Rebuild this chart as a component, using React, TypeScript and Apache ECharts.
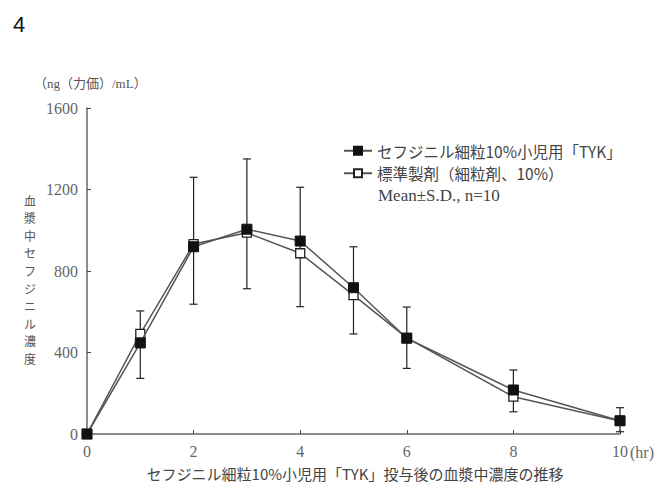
import React, { useEffect, useRef } from "react";
import * as echarts from "echarts";

const hours = [0, 1, 2, 3, 4, 5, 6, 8, 10];
const tykValues = [0, 447, 919, 1005, 947, 718, 470, 216, 65];
const refValues = [0, 491, 932, 988, 887, 682, 472, 183, 64];
const sdLow = [0, 273, 637, 713, 625, 491, 322, 109, 11];
const sdHigh = [0, 604, 1260, 1350, 1211, 919, 623, 314, 129];
const seriesNames = ["セフジニル細粒10%小児用「TYK」", "標準製剤（細粒剤、10%）"];
const yTicks = [0, 400, 800, 1200, 1600];
const xTicks = [0, 2, 4, 6, 8, 10];
const yTitle = "血漿中セフジニル濃度";

const SERIF = "'Liberation Serif', 'DejaVu Serif', 'Noto Sans CJK JP', serif";
const CJK = "'Noto Sans CJK JP', 'Liberation Serif', serif";

export default function App() {
  const ref = useRef<HTMLDivElement>(null);
  useEffect(() => {
    if (!ref.current) return;
    const chart = echarts.init(ref.current, undefined, { renderer: "svg" });
    const errData = hours
      .map((h, i) => [h, sdLow[i], sdHigh[i]])
      .filter((d) => d[2] > d[1]);
    const vChars = yTitle.split("").map((c, i) => ({
      type: "text",
      x: 30,
      y: 194 + i * 17.6,
      style: { text: c, fontSize: 12, fontFamily: CJK, fill: "#5a524c", align: "center", verticalAlign: "top" },
    }));
    chart.setOption({
      animation: false,
      backgroundColor: "#fff",
      grid: { left: 87, top: 108, width: 533, height: 326 },
      xAxis: {
        type: "value",
        min: xTicks[0],
        max: xTicks[xTicks.length - 1],
        interval: 2,
        axisLine: { lineStyle: { color: "#666", width: 1.5 } },
        axisTick: { inside: true, length: 4, lineStyle: { color: "#444" } },
        axisLabel: { color: "#666", fontFamily: SERIF, fontSize: 16, margin: 9, formatter: (v: number) => String(v) },
        splitLine: { show: false },
      },
      yAxis: {
        type: "value",
        min: yTicks[0],
        max: yTicks[yTicks.length - 1],
        interval: 400,
        axisLine: { show: true, lineStyle: { color: "#666", width: 1.5 } },
        axisTick: { show: true, inside: true, length: 4, lineStyle: { color: "#444" } },
        axisLabel: { color: "#666", fontFamily: SERIF, fontSize: 16, margin: 9, formatter: (v: number) => String(v) },
        splitLine: { show: false },
      },
      legend: {
        orient: "vertical",
        left: 338,
        top: 138,
        itemWidth: 28,
        itemHeight: 10,
        itemGap: 7,
        data: seriesNames,
        textStyle: { color: "#444", fontFamily: CJK, fontSize: 15.5 },
      },
      series: [
        {
          type: "custom",
          name: "sd",
          z: 1,
          data: errData,
          encode: { x: 0, y: [1, 2] },
          renderItem: (params: any, api: any) => {
            const x = api.value(0);
            const lo = api.coord([x, api.value(1)]);
            const hi = api.coord([x, api.value(2)]);
            const cw = 4;
            const style = { stroke: "#222", lineWidth: 1.2 };
            return {
              type: "group",
              children: [
                { type: "line", shape: { x1: lo[0], y1: lo[1], x2: hi[0], y2: hi[1] }, style },
                { type: "line", shape: { x1: lo[0] - cw, y1: lo[1], x2: lo[0] + cw, y2: lo[1] }, style },
                { type: "line", shape: { x1: hi[0] - cw, y1: hi[1], x2: hi[0] + cw, y2: hi[1] }, style },
              ],
            };
          },
        },
        {
          type: "line",
          name: seriesNames[1],
          z: 3,
          data: hours.map((h, i) => [h, refValues[i]]),
          symbol: "rect",
          symbolSize: 9,
          lineStyle: { color: "#555", width: 1.5 },
          itemStyle: { color: "#fff", borderColor: "#222", borderWidth: 1.3 },
        },
        {
          type: "line",
          name: seriesNames[0],
          z: 4,
          data: hours.map((h, i) => [h, tykValues[i]]),
          symbol: "rect",
          symbolSize: 10,
          lineStyle: { color: "#555", width: 1.5 },
          itemStyle: { color: "#111", borderColor: "#111", borderWidth: 1 },
        },
      ],
      graphic: [
        { type: "text", left: 13, top: 13, style: { text: "4", fontSize: 22, fontFamily: "'Liberation Sans', 'DejaVu Sans', sans-serif", fill: "#111" } },
        { type: "text", left: 34, top: 77, style: { text: "（ng（力価）/mL）", fontSize: 13, fontFamily: SERIF, fill: "#555" } },
        ...vChars,
        { type: "text", left: 630, top: 444, style: { text: "(hr)", fontSize: 16, fontFamily: SERIF, fill: "#666" } },
        { type: "text", left: 378, top: 187, style: { text: "Mean±S.D., n=10", fontSize: 17, fontFamily: SERIF, fill: "#444" } },
        { type: "text", x: 355, y: 466, style: { text: "セフジニル細粒10%小児用「TYK」投与後の血漿中濃度の推移", fontSize: 15, fontFamily: CJK, fill: "#444", align: "center", verticalAlign: "top" } },
      ],
    });
    return () => chart.dispose();
  }, []);
  return <div ref={ref} style={{ width: 667, height: 490, position: "absolute", left: 0, top: 0 }} />;
}
